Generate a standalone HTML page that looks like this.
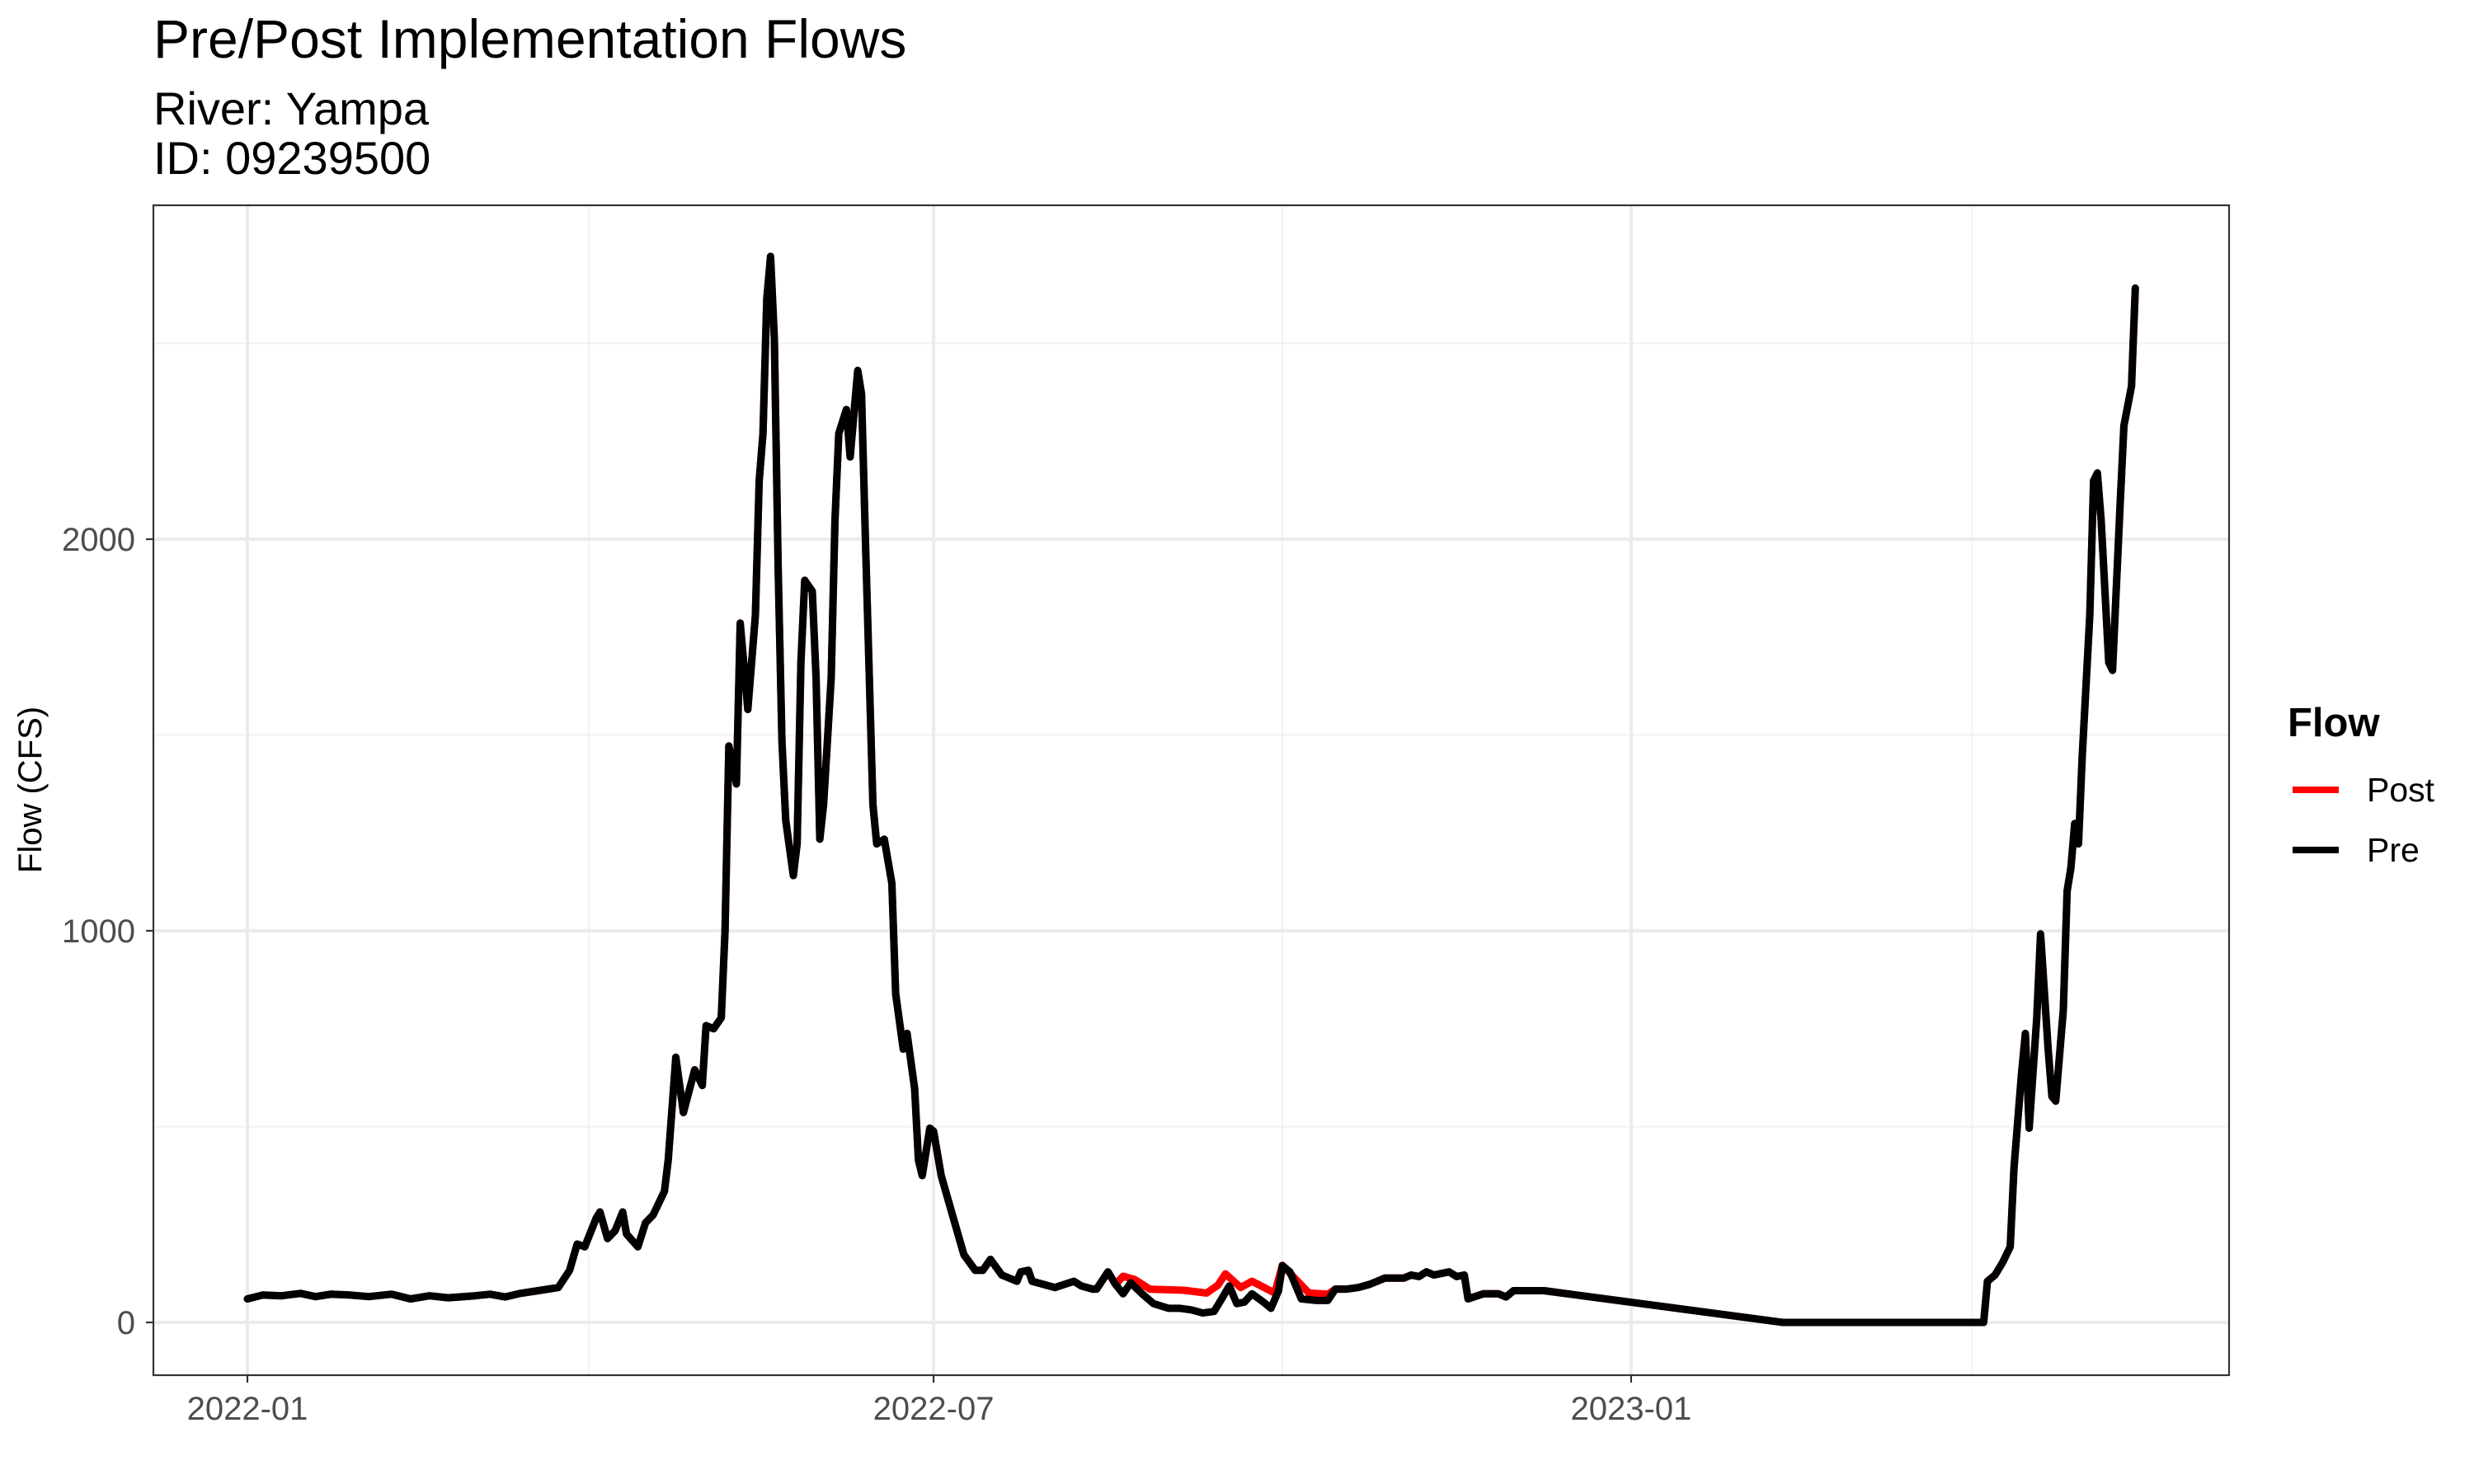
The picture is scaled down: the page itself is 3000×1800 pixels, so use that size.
<!DOCTYPE html>
<html><head><meta charset="utf-8"><style>
body{margin:0;background:#fff;}
svg{display:block;font-family:"Liberation Sans",Arial,sans-serif;}
</style></head><body>
<svg id="chart" width="3000" height="1800" viewBox="0 0 3000 1800">
<text x="186" y="70" font-size="66" fill="#000">Pre/Post Implementation Flows</text>
<text x="186" y="151" font-size="56" fill="#000">River: Yampa</text>
<text x="186" y="211" font-size="56" fill="#000">ID: 09239500</text>
<g id="grid"></g>
<g id="series"></g>
<rect x="186" y="249" width="2517" height="1419" fill="none" stroke="#333" stroke-width="2.2"/>
<g id="axes"></g>
<text transform="translate(50,958) rotate(-90)" text-anchor="middle" font-size="40" fill="#000">Flow (CFS)</text>
<g>
<text x="2774" y="893" font-size="49" font-weight="bold" fill="#000">Flow</text>
<g>
<line x1="2780" y1="958" x2="2836" y2="958" stroke="#ff0000" stroke-width="8"/>
<text x="2870" y="972" font-size="41" fill="#000">Post</text></g>
<g>
<line x1="2780" y1="1031" x2="2836" y2="1031" stroke="#000" stroke-width="8"/>
<text x="2870" y="1045" font-size="41" fill="#000">Pre</text></g>
</g>
</svg>
<script>
// Days since 2022-01-01 and flow values (CFS)
const preDays=[0,4,9,14,18,22,27,32,38,43,48,53,60,64,68,72,76,82,85,87,89,92,93,95,97,99,100,103,105,107,110,111,113,115,118,120,121,123,125,126,127,129,130,132,134,135,136,137,138,139,140,141,142,144,145,146,147,149,150,151,152,154,155,156,158,159,161,162,163,165,166,168,170,171,173,174,176,177,178,180,181,183,186,189,192,194,196,199,203,204,206,207,213,218,220,223,224,227,229,231,233,236,239,243,246,249,252,255,257,259,261,263,265,268,270,272,273,275,278,282,285,287,290,293,296,298,300,305,307,309,311,313,317,319,321,322,326,330,332,334,338,342,405,458,459,461,463,465,466,468,469,470,472,473,475,476,477,479,480,481,482,483,484,486,487,488,489,491,492,494,495,497,498];
const preVals=[60,70,68,74,66,72,70,66,72,60,68,63,68,72,65,74,80,89,133,200,193,266,282,214,234,282,226,193,254,274,335,415,677,536,645,605,758,750,778,1000,1472,1375,1786,1565,1806,2149,2270,2613,2722,2512,1927,1484,1282,1141,1222,1685,1895,1867,1645,1234,1323,1645,2048,2270,2331,2210,2431,2371,2008,1323,1222,1234,1121,839,698,738,597,415,375,496,488,375,274,173,133,133,161,121,105,129,133,105,89,105,93,85,85,129,97,73,101,73,48,36,36,32,24,28,60,93,48,52,73,52,36,81,145,129,60,56,56,85,85,89,97,105,113,113,121,117,129,121,129,117,121,60,73,73,65,81,81,81,0,0,105,121,153,193,395,637,738,496,778,992,698,577,565,798,1101,1161,1274,1222,1444,1806,2149,2169,2048,1685,1665,2089,2290,2391,2641];
// Post differs from Pre only within this window
const postDays=[231,234,238,247,253,256,258,262,265,271,273,280,285];
const postVals=[118,110,85,82,75,95,124,89,105,75,146,75,72];
const yTicks=[0,1000,2000];
const yMinor=[500,1500,2500];
const xTickDays=[0,181,365];
const xTickLabels=["2022-01","2022-07","2023-01"];
const xMinorDays=[90,273,455];

const NS="http://www.w3.org/2000/svg";
const X0=186,X1=2703,Y0=249,Y1=1668;
function xs(d){return 300+d*4.597;}
function ys(v){return 1604-v*0.475;}
function mk(tag,attrs,parent){const e=document.createElementNS(NS,tag);for(const k in attrs)e.setAttribute(k,attrs[k]);parent.appendChild(e);return e;}
const grid=document.getElementById('grid'),axes=document.getElementById('axes'),ser=document.getElementById('series');
yMinor.forEach(v=>{const l=mk('line',{x1:X0,x2:X1,y1:ys(v),y2:ys(v),stroke:'#f2f2f2','stroke-width':2},grid);

});
xMinorDays.forEach(d=>{const l=mk('line',{x1:xs(d),x2:xs(d),y1:Y0,y2:Y1,stroke:'#f2f2f2','stroke-width':2},grid);

});
yTicks.forEach(v=>{const l=mk('line',{x1:X0,x2:X1,y1:ys(v),y2:ys(v),stroke:'#ebebeb','stroke-width':4},grid);


const t=mk('line',{x1:X0-9,x2:X0,y1:ys(v),y2:ys(v),stroke:'#333','stroke-width':2.2},axes);


const tx=mk('text',{x:X0-22,y:ys(v)+14,'text-anchor':'end','font-size':40,fill:'#4d4d4d'},axes);tx.textContent=v;

});
xTickDays.forEach((d,i)=>{const l=mk('line',{x1:xs(d),x2:xs(d),y1:Y0,y2:Y1,stroke:'#ebebeb','stroke-width':4},grid);


const t=mk('line',{x1:xs(d),x2:xs(d),y1:Y1,y2:Y1+9,stroke:'#333','stroke-width':2.2},axes);


const tx=mk('text',{x:xs(d),y:Y1+54,'text-anchor':'middle','font-size':40,fill:'#4d4d4d'},axes);tx.textContent=xTickLabels[i];

});
function path(days,vals,color,name){let d='';days.forEach((x,i)=>{d+=(i?'L':'M')+xs(x).toFixed(1)+','+ys(vals[i]).toFixed(1);});
const p=mk('path',{d:d,fill:'none',stroke:color,'stroke-width':9,'stroke-linejoin':'round','stroke-linecap':'round'},ser);

}
// build post series: pre outside window, post values inside
const wS=postDays[0],wE=postDays[postDays.length-1];
const pd=[],pv=[];let ins=false;
preDays.forEach((d,i)=>{if(d<wS||d>wE){pd.push(d);pv.push(preVals[i]);}else if(!ins){ins=true;postDays.forEach((q,j)=>{pd.push(q);pv.push(postVals[j]);});}});
path(pd,pv,'#ff0000','post-line');
path(preDays,preVals,'#000000','pre-line');
</script>
</body></html>
